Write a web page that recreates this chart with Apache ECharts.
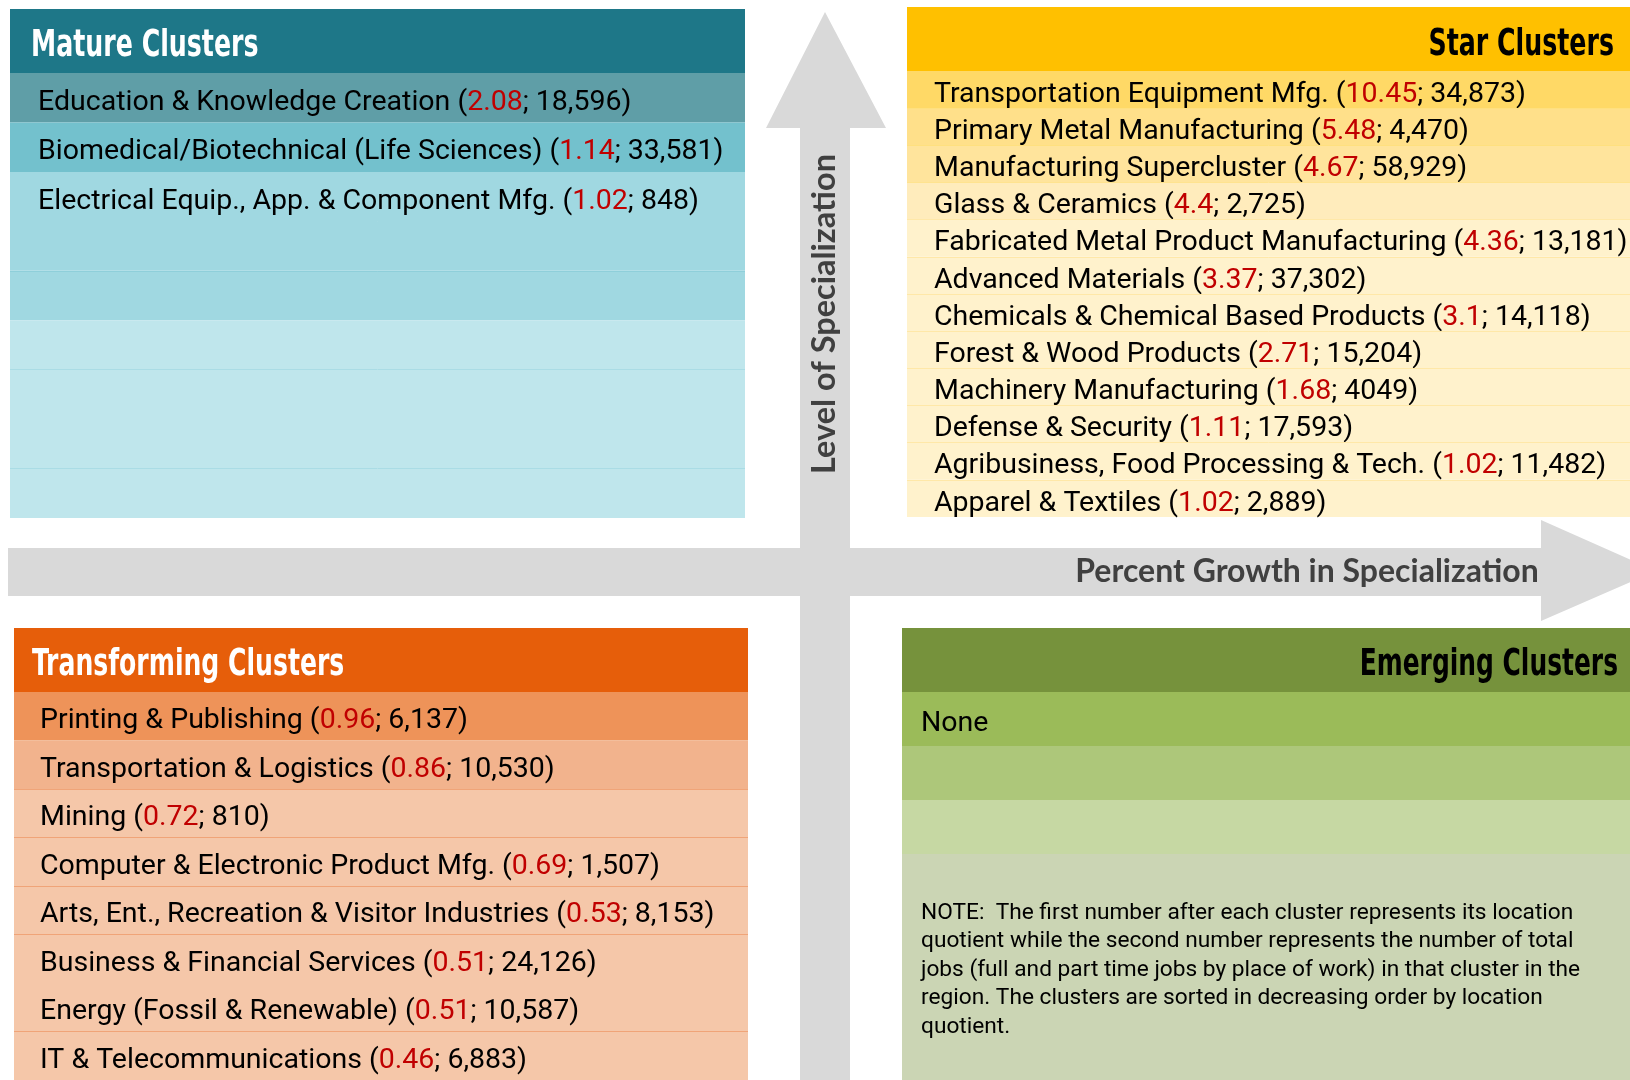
<!DOCTYPE html>
<html>
<head>
<meta charset="utf-8">
<script src="https://cdn.jsdelivr.net/npm/echarts@6/dist/echarts.min.js"></script>
<style>
html, body { margin: 0; padding: 0; background: #fff; }
#main { width: 1630px; height: 1080px; }
</style>
</head>
<body>
<div id="main"></div>
<script>
// 数据: 名称 / location quotient / jobs
const matureNames = ['Education & Knowledge Creation', 'Biomedical/Biotechnical (Life Sciences)', 'Electrical Equip., App. & Component Mfg.'];
const matureLQ = [2.08, 1.14, 1.02];
const matureJobs = ['18,596', '33,581', '848'];

const starNames = [
  'Transportation Equipment Mfg.', 'Primary Metal Manufacturing', 'Manufacturing Supercluster', 'Glass & Ceramics',
  'Fabricated Metal Product Manufacturing', 'Advanced Materials', 'Chemicals & Chemical Based Products',
  'Forest & Wood Products', 'Machinery Manufacturing', 'Defense & Security',
  'Agribusiness, Food Processing & Tech.', 'Apparel & Textiles'
];
const starLQ = [10.45, 5.48, 4.67, 4.4, 4.36, 3.37, 3.1, 2.71, 1.68, 1.11, 1.02, 1.02];
const starJobs = ['34,873', '4,470', '58,929', '2,725', '13,181', '37,302', '14,118', '15,204', '4049', '17,593', '11,482', '2,889'];

const transNames = [
  'Printing & Publishing', 'Transportation & Logistics', 'Mining', 'Computer & Electronic Product Mfg.',
  'Arts, Ent., Recreation & Visitor Industries', 'Business & Financial Services',
  'Energy (Fossil & Renewable)', 'IT & Telecommunications'
];
const transLQ = [0.96, 0.86, 0.72, 0.69, 0.53, 0.51, 0.51, 0.46];
const transJobs = ['6,137', '10,530', '810', '1,507', '8,153', '24,126', '10,587', '6,883'];

const emergingNames = ['None'];

const noteLines = [
  'NOTE:  The first number after each cluster represents its location',
  'quotient while the second number represents the number of total',
  'jobs (full and part time jobs by place of work) in that cluster in the',
  'region. The clusters are sorted in decreasing order by location',
  'quotient.'
];

const BODY = 'Roboto';
const HEAD = '"Liberation Sans Narrow", "DejaVu Sans Condensed", sans-serif';
const T = 'rgba(0,0,0,0)';

// 四个象限的表格 (同色行之间的分隔线用行色, 盖住缝)
const panels = [
  { names: matureNames, lq: matureLQ, jobs: matureJobs, left: 10, top: 73, width: 735, height: 445, pad: 28,
    rows: ['#5f9ea7', '#73c1cd', '#a0d8e1', '#a0d8e1', '#a0d8e1', '#bfe6ec', '#bfe6ec', '#bfe6ec', '#bfe6ec'],
    lines: [T, T, T, '#a0d8e1', '#8fcfda', T, '#aadce5', '#bfe6ec', '#aadce5', T] },
  { names: starNames, lq: starLQ, jobs: starJobs, left: 907, top: 71, width: 723, height: 446, pad: 27,
    rows: ['#ffd966', '#ffe08a', '#ffe49c', '#ffecbc', '#fff2cc', '#fff2cc', '#fff2cc', '#fff2cc', '#fff2cc', '#fff2cc', '#fff2cc', '#fff2cc'],
    lines: [T, '#ffe07f', '#ffe07f', '#ffe38f', '#ffe8a8', '#ffe8a8', '#ffe8a8', '#ffe8a8', '#ffe8a8', '#ffe8a8', '#ffe8a8', '#ffe8a8', T] },
  { names: transNames, lq: transLQ, jobs: transJobs, left: 14, top: 692, width: 734, height: 392, pad: 26,
    rows: ['#ee9359', '#f2b38d', '#f5c7a9', '#f5c7a9', '#f5c7a9', '#f5c7a9', '#f5c7a9', '#f5c7a9'],
    lines: [T, T, '#f0a478', '#f0a478', '#f0a478', '#f0a478', '#f5c7a9', '#f0a478', T] },
  { names: emergingNames, lq: null, jobs: null, left: 902, top: 692, width: 728, height: 162, pad: 19,
    rows: ['#9bbb59', '#adc77a', '#c6d8a3'],
    lines: [T, T, T, T] }
];

const rich = {
  n: { fontFamily: BODY, fontSize: 28.5, color: '#000' },
  r: { fontFamily: BODY, fontSize: 28.5, color: '#c00000' }
};

const grid = [], xAxis = [], yAxis = [], series = [];
panels.forEach((p, k) => {
  grid.push({ left: p.left, top: p.top, width: p.width, height: p.height });
  xAxis.push({ type: 'value', gridIndex: k, min: 0, max: 1, show: false });
  yAxis.push({
    type: 'category', gridIndex: k, inverse: true, z: 5,
    data: p.rows.map((c, i) => i),
    axisLine: { show: false }, axisTick: { show: false }, axisLabel: { show: false },
    splitLine: { show: true, interval: 0, lineStyle: { color: p.lines, width: 1 } }
  });
  series.push({
    type: 'bar', xAxisIndex: k, yAxisIndex: k, barWidth: '100%', silent: true,
    data: p.rows.map(c => ({ value: 1, itemStyle: { color: c } })),
    label: {
      show: true, position: 'insideLeft', distance: p.pad, offset: [0, 5], rich,
      formatter: (q) => {
        const i = q.dataIndex;
        if (i >= p.names.length) return '';
        if (!p.lq) return '{n|' + p.names[i] + '}';
        return '{n|' + p.names[i] + ' (}{r|' + p.lq[i] + '}{n|; ' + p.jobs[i] + ')}';
      }
    }
  });
});

// 标题字体没有窄体, 用 scaleX 压窄
const headText = (x, y, text, color, align, sx) => ({
  type: 'text', x, y, z: 10, scaleX: sx, scaleY: 1.06,
  style: { text, fill: color, fontFamily: HEAD, fontWeight: 'bold', fontSize: 36, align, verticalAlign: 'middle' }
});

const graphic = [
  // 坐标箭头
  { type: 'polygon', z: 0, shape: { points: [[766, 128], [825, 12], [886, 128], [850, 128], [850, 1080], [800, 1080], [800, 128]] }, style: { fill: '#d9d9d9' } },
  { type: 'polygon', z: 0, shape: { points: [[8, 548], [1541, 548], [1541, 520], [1656, 571], [1541, 621], [1541, 596], [8, 596]] }, style: { fill: '#d9d9d9' } },
  { type: 'text', x: 825, y: 314, rotation: Math.PI / 2, z: 1,
    style: { text: 'Level of Specialization', fill: '#404040', fontFamily: 'Lato', fontWeight: 'bold', fontSize: 32.5, align: 'center', verticalAlign: 'middle' } },
  { type: 'text', x: 1307, y: 572, z: 1,
    style: { text: 'Percent Growth in Specialization', fill: '#404040', fontFamily: 'Lato', fontWeight: 'bold', fontSize: 32, align: 'center', verticalAlign: 'middle' } },
  // 表头
  { type: 'rect', shape: { x: 10, y: 9, width: 735, height: 64 }, style: { fill: '#1e7788' } },
  { type: 'rect', shape: { x: 907, y: 7, width: 723, height: 64 }, style: { fill: '#ffc000' } },
  { type: 'rect', shape: { x: 14, y: 628, width: 734, height: 64 }, style: { fill: '#e65e0a' } },
  { type: 'rect', shape: { x: 902, y: 628, width: 728, height: 64 }, style: { fill: '#76923c' } },
  { type: 'rect', shape: { x: 902, y: 854, width: 728, height: 226 }, style: { fill: '#cbd5b4' } },
  headText(31, 46.5, 'Mature Clusters', '#fff', 'left', 0.78),
  headText(1614, 45, 'Star Clusters', '#000', 'right', 0.78),
  headText(32, 665, 'Transforming Clusters', '#fff', 'left', 0.775),
  headText(1618, 665, 'Emerging Clusters', '#000', 'right', 0.77),
  { type: 'text', x: 921, y: 899, z: 10,
    style: { text: noteLines.join('\n'), fill: '#000', fontFamily: BODY, fontSize: 22.7, lineHeight: 28.5, verticalAlign: 'top' } }
];

const myChart = echarts.init(document.getElementById('main'));
myChart.setOption({ animation: false, grid, xAxis, yAxis, series, graphic });
</script>
</body>
</html>
